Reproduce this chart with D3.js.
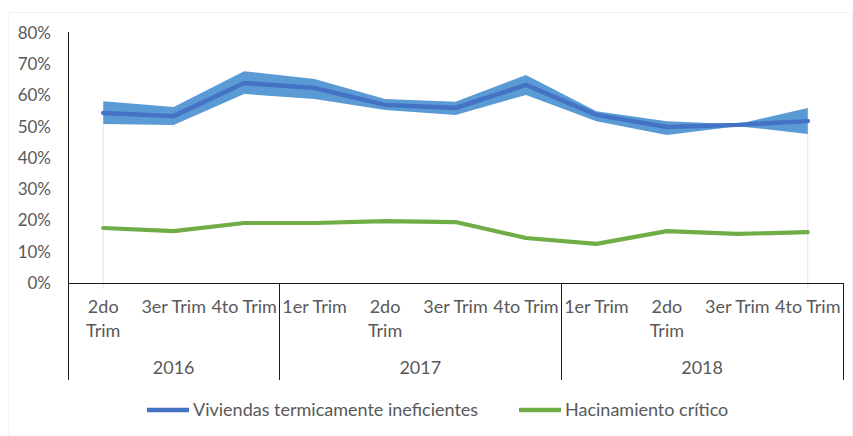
<!DOCTYPE html>
<html><head><meta charset="utf-8">
<script src="https://cdn.jsdelivr.net/npm/d3@7"></script>
<style>body{margin:0;background:#fff}svg{display:block}</style></head>
<body>
<svg id="c" width="853" height="436"></svg>
<script>
const years = ["2016", "2017", "2018"];
const quarters = ["2do Trim", "3er Trim", "4to Trim", "1er Trim", "2do Trim", "3er Trim", "4to Trim", "1er Trim", "2do Trim", "3er Trim", "4to Trim"];
const quarterYear = [0, 0, 0, 1, 1, 1, 1, 2, 2, 2, 2];
const viviendas = [54.4, 53.4, 64.0, 62.4, 57.0, 56.0, 63.4, 53.8, 49.9, 50.6, 51.8];
const viviendasLow = [50.9, 50.6, 60.5, 58.9, 55.4, 53.8, 60.2, 51.8, 47.4, 50.2, 47.7];
const viviendasHigh = [58.2, 56.3, 67.8, 65.3, 58.9, 58.0, 66.6, 55.0, 51.8, 50.8, 56.0];
const hacinamiento = [17.6, 16.6, 19.2, 19.2, 19.8, 19.5, 14.4, 12.5, 16.6, 15.7, 16.3];
const yTicks = [0, 10, 20, 30, 40, 50, 60, 70, 80];
const seriesNames = ["Viviendas termicamente ineficientes", "Hacinamiento crítico"];

const FONT = "Lato, 'Open Sans', sans-serif";
const TXT = "#595959";
const svg = d3.select("#c");

svg.append("rect").attr("x", 8.5).attr("y", 12.5).attr("width", 844).attr("height", 430)
  .attr("fill", "#fff").attr("stroke", "#f3f3f3");

const x = d3.scaleBand().domain(d3.range(quarters.length)).range([68, 843]).padding(0);
const cx = i => x(i) + x.bandwidth() / 2;
const y = d3.scaleLinear().domain([0, 80]).range([283, 33]);

// faint drop lines at ends
svg.append("line").attr("x1", cx(0)).attr("x2", cx(0)).attr("y1", y(viviendasLow[0])).attr("y2", y(0) + 6)
  .attr("stroke", "#dfe4ec").attr("stroke-width", 1);
const L = quarters.length - 1;
svg.append("line").attr("x1", cx(L)).attr("x2", cx(L)).attr("y1", y(viviendasHigh[L])).attr("y2", y(0) + 6)
  .attr("stroke", "#dfe4ec").attr("stroke-width", 1);

// band
const area = d3.area().x((d, i) => cx(i)).y0((d, i) => y(viviendasLow[i])).y1((d, i) => y(viviendasHigh[i]));
svg.append("path").datum(viviendas).attr("d", area).attr("fill", "#5B9BD5");

const line = d3.line().x((d, i) => cx(i)).y(d => y(d));
svg.append("path").datum(viviendas).attr("d", line).attr("fill", "none")
  .attr("stroke", "#4472C4").attr("stroke-width", 4.5).attr("stroke-linejoin", "round").attr("stroke-linecap", "round");
svg.append("path").datum(hacinamiento).attr("d", line).attr("fill", "none")
  .attr("stroke", "#70AD47").attr("stroke-width", 4.2).attr("stroke-linejoin", "round").attr("stroke-linecap", "round");

// y axis
const ya = svg.append("g").attr("transform", "translate(68,0)")
  .call(d3.axisLeft(y).tickValues(yTicks).tickFormat(d => d + "%").tickSize(0).tickPadding(17));
ya.select(".domain").remove();
ya.selectAll("text").attr("font-family", FONT).attr("font-size", 17).attr("fill", TXT);
svg.append("line").attr("x1", 68.5).attr("x2", 68.5).attr("y1", 32).attr("y2", 380).attr("stroke", "#1a1a1a");

// x axis
svg.append("line").attr("x1", 68).attr("x2", 843).attr("y1", 283.5).attr("y2", 283.5).attr("stroke", "#1a1a1a");
const ends = years.map((yr, k) => {
  const idx = quarterYear.map((v, i) => v === k ? i : -1).filter(i => i >= 0);
  return [x(idx[0]), x(idx[idx.length - 1]) + x.bandwidth()];
});
ends.forEach(([a, b]) => {
  svg.append("line").attr("x1", Math.round(b) + 0.5).attr("x2", Math.round(b) + 0.5).attr("y1", 283).attr("y2", 380).attr("stroke", "#1a1a1a");
});
quarters.forEach((q, i) => {
  const lines = q.startsWith("2do") ? q.split(" ") : [q];
  const t = svg.append("text").attr("x", cx(i)).attr("y", 313).attr("text-anchor", "middle")
    .attr("font-family", FONT).attr("font-size", 18).attr("fill", TXT);
  lines.forEach((s, j) => t.append("tspan").attr("x", cx(i)).attr("dy", j ? 24 : 0).text(s));
});
years.forEach((yr, k) => {
  svg.append("text").attr("x", (ends[k][0] + ends[k][1]) / 2).attr("y", 374).attr("text-anchor", "middle")
    .attr("font-family", FONT).attr("font-size", 18).attr("fill", TXT).text(yr);
});

// legend
const leg = [{x: 147, c: "#4472C4"}, {x: 519, c: "#70AD47"}];
leg.forEach((d, k) => {
  svg.append("line").attr("x1", d.x).attr("x2", d.x + 42).attr("y1", 410).attr("y2", 410)
    .attr("stroke", d.c).attr("stroke-width", 4.5);
  svg.append("text").attr("x", d.x + 46).attr("y", 416).attr("font-family", FONT).attr("font-size", 18)
    .attr("fill", TXT).text(seriesNames[k]);
});
</script>
</body></html>
